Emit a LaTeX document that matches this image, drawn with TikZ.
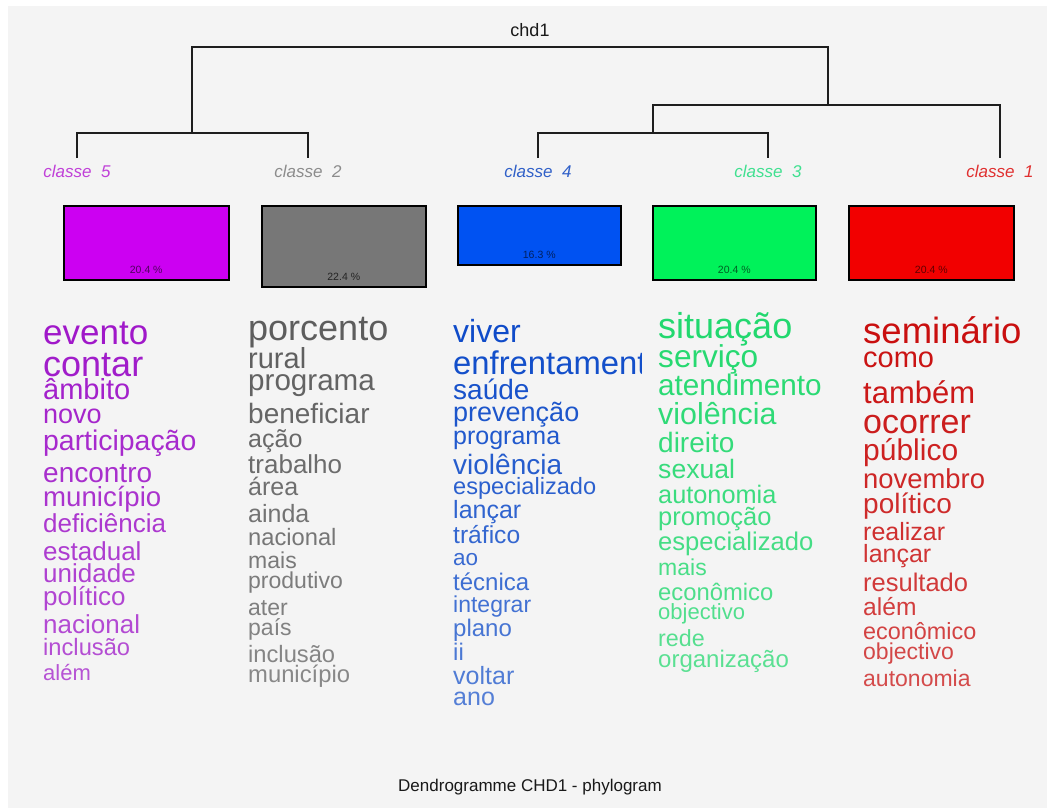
\documentclass[tikz,border=0pt]{standalone}
\usepackage{fontspec}
\setmainfont{Liberation Sans}
\definecolor{bg}{HTML}{F4F4F4}
\definecolor{tree}{HTML}{1E1E1E}
\definecolor{wc5}{HTML}{9E14C8}
\definecolor{wc2}{HTML}{5A5A5A}
\definecolor{wc4}{HTML}{0A48C8}
\definecolor{wc3}{HTML}{1ED86C}
\definecolor{wc1}{HTML}{C80A0A}
\definecolor{lc5}{HTML}{C040D8}
\definecolor{lc2}{HTML}{8C8C8C}
\definecolor{lc4}{HTML}{3060C8}
\definecolor{lc3}{HTML}{40E090}
\definecolor{lc1}{HTML}{E03030}
\definecolor{bf5}{HTML}{CC00F2}
\definecolor{bf2}{HTML}{777777}
\definecolor{bf4}{HTML}{0052F2}
\definecolor{bf3}{HTML}{00F25A}
\definecolor{bf1}{HTML}{F20000}
\tikzset{
  wordnode/.style={anchor=base west, inner sep=0pt, font=\fontsize{#1pt}{#1pt}\selectfont},
  classlabel/.style={anchor=base, inner sep=0pt, font=\fontsize{17pt}{17pt}\selectfont\itshape},
  classbox/.style={draw=black, line width=1.5pt, anchor=north west, inner sep=0pt, minimum width=#1},
  pctlabel/.style={anchor=base, inner sep=0pt, font=\fontsize{10.5pt}{10.5pt}\selectfont},
  branch/.style={draw=tree, line width=1.4pt},
  titletext/.style={anchor=base, inner sep=0pt, font=\fontsize{#1pt}{#1pt}\selectfont, text=black!90}
}
\begin{document}
\begin{tikzpicture}[x=1pt,y=-1pt]
\useasboundingbox (0,0) rectangle (1047,808);
\fill[bg] (8,6) rectangle (1047,808);

% title
\node[titletext=18] (title) at (530,37) {chd1};

% leaf labels
\node[classlabel, text=lc5] (l5) at (77,177) {classe\ \ 5};
\node[classlabel, text=lc2] (l2) at (308,177) {classe\ \ 2};
\node[classlabel, text=lc4] (l4) at (538,177) {classe\ \ 4};
\node[classlabel, text=lc3] (l3) at (768,177) {classe\ \ 3};
\node[classlabel, text=lc1] (l1) at (1000,177) {classe\ \ 1};

% dendrogram
\coordinate (j5) at (77,158);
\coordinate (j2) at (308,158);
\coordinate (j4) at (538,158);
\coordinate (j3) at (768,158);
\coordinate (j1) at (1000,158);
\coordinate (a52) at (192,133);
\coordinate (a43) at (653,133);
\coordinate (a431) at (828,105);
\coordinate (aroot) at (510,47);
\draw[branch] (j5) |- (a52) -| (j2);
\draw[branch] (j4) |- (a43) -| (j3);
\draw[branch] (a43) |- (a431) -| (j1);
\draw[branch] (a52) |- (aroot) -| (a431);

% boxes
\node[classbox=165pt, fill=bf5, minimum height=74pt] (b5) at (63,205) {};
\node[classbox=164pt, fill=bf2, minimum height=81pt] (b2) at (261,205) {};
\node[classbox=163pt, fill=bf4, minimum height=59pt] (b4) at (457,205) {};
\node[classbox=163pt, fill=bf3, minimum height=74pt] (b3) at (652,205) {};
\node[classbox=165pt, fill=bf1, minimum height=74pt] (b1) at (848,205) {};
\node[pctlabel, text=bf5!40!black] (p5) at ([yshift=7pt]b5.south) {20.4 \%};
\node[pctlabel, text=bf2!30!black] (p2) at ([yshift=7pt]b2.south) {22.4 \%};
\node[pctlabel, text=bf4!40!black] (p4) at ([yshift=7pt]b4.south) {16.3 \%};
\node[pctlabel, text=bf3!40!black] (p3) at ([yshift=7pt]b3.south) {20.4 \%};
\node[pctlabel, text=bf1!40!black] (p1) at ([yshift=7pt]b1.south) {20.4 \%};

% word lists
\foreach \w/\s/\b [count=\i] in {evento/35/344, contar/36/376, âmbito/29/399, novo/27/423, participação/28.4/450, encontro/28/482, município/27.6/506, deficiência/26/532, estadual/26/560, unidade/26/582, político/26/605, nacional/26/633, inclusão/23.7/655, além/22/680}{
  \pgfmathtruncatemacro{\pc}{100-2*\i}
  \node[wordnode=\s, text=wc5!\pc!bg] (w5-\i) at (43,\b) {\w};
}
\foreach \w/\s/\b [count=\i] in {porcento/36/340, rural/29/368, programa/29.6/390, beneficiar/28/423, ação/25/447, trabalho/26/473, área/25/495, ainda/25/522, nacional/23.7/545, mais/23/568, produtivo/23/588, ater/23/615, país/23/635, inclusão/23.7/662, município/23.8/682}{
  \pgfmathtruncatemacro{\pc}{100-2*\i}
  \node[wordnode=\s, text=wc2!\pc!bg] (w2-\i) at (248,\b) {\w};
}
\begin{scope}
\clip (440,300) rectangle (641,730);
\foreach \w/\s/\b [count=\i] in {viver/32/342, enfrentamento/32.8/374, saúde/28/399, prevenção/27/421, programa/25/444, violência/28/474, especializado/23.6/494, lançar/25/518, tráfico/24.6/543, ao/22.5/565, técnica/24/590, integrar/23/612, plano/24/636, ii/24/660, voltar/25/684, ano/25/705}{
  \pgfmathtruncatemacro{\pc}{100-2*\i}
  \node[wordnode=\s, text=wc4!\pc!bg] (w4-\i) at (453,\b) {\w};
}
\end{scope}
\foreach \w/\s/\b [count=\i] in {situação/36/338, serviço/31.6/367, atendimento/29.7/395, violência/30.4/424, direito/28/452, sexual/26.6/478, autonomia/25.3/503, promoção/25.5/525, especializado/25.6/550, mais/23/575, econômico/23.8/600, objectivo/22/619, rede/23.3/646, organização/24/667}{
  \pgfmathtruncatemacro{\pc}{100-2*\i}
  \node[wordnode=\s, text=wc3!\pc!bg] (w3-\i) at (658,\b) {\w};
}
\foreach \w/\s/\b [count=\i] in {seminário/36.5/343, como/29/367, também/31/403, ocorrer/34/433, público/30/460, novembro/27.4/488, político/28/513, realizar/25/540, lançar/25/562, resultado/25.5/591, além/24.6/615, econômico/23.4/639, objectivo/23/659, autonomia/23/686}{
  \pgfmathtruncatemacro{\pc}{100-2*\i}
  \node[wordnode=\s, text=wc1!\pc!bg] (w1-\i) at (863,\b) {\w};
}

% caption
\node[titletext=17] (caption) at (530,791) {Dendrogramme CHD1 - phylogram};
\end{tikzpicture}
\end{document}
